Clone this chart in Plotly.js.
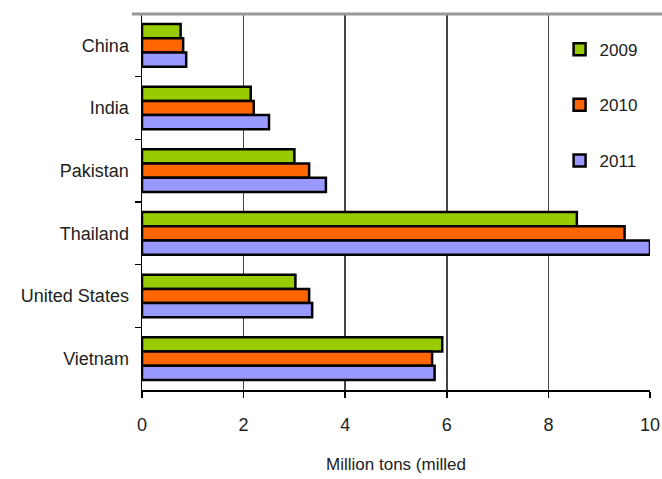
<!DOCTYPE html>
<html>
<head>
<meta charset="utf-8">
<script src="https://cdn.plot.ly/plotly-3.0.1.min.js"></script>
<style>html,body{margin:0;padding:0;background:#fff;}#chart{width:662px;height:479px;}</style>
</head>
<body>
<div id="chart"></div>
<script>
const countries = ["China", "India", "Pakistan", "Thailand", "United States", "Vietnam"];
const years = ["2009", "2010", "2011"];
const v2009 = [0.76, 2.14, 3.0, 8.56, 3.02, 5.91];
const v2010 = [0.81, 2.2, 3.29, 9.5, 3.29, 5.71];
const v2011 = [0.87, 2.5, 3.62, 10.0, 3.35, 5.76];
const colors = ["#99CC00", "#FF6600", "#9999FF"];
const series = [v2009, v2010, v2011];

const traces = series.map((vals, i) => ({
  type: "bar",
  orientation: "h",
  name: years[i],
  y: countries,
  x: vals,
  legendgroup: years[i],
  marker: {color: colors[i], line: {color: "#000", width: 2.5}},
  hoverinfo: "x+name"
}));

const layout = {
  width: 662, height: 479,
  margin: {l: 142, r: 12, t: 14, b: 89},
  paper_bgcolor: "#fff", plot_bgcolor: "#fff",
  font: {family: "Liberation Sans, Arial, sans-serif", color: "#222", size: 17},
  barmode: "group",
  bargap: 0.32,
  bargroupgap: 0,
  showlegend: true,
  legend: {
    x: 0.822, xanchor: "left", y: 0.953, yanchor: "top",
    font: {size: 17, color: "#222"},
    traceorder: "grouped", tracegroupgap: 30.5,
    bgcolor: "rgba(0,0,0,0)", borderwidth: 0,
    itemwidth: 30
  },
  xaxis: {
    range: [0, 10], dtick: 2, tick0: 0,
    showgrid: true, gridcolor: "#444", gridwidth: 1.5,
    zeroline: false,
    showline: true, linecolor: "#000", linewidth: 1.5,
    ticks: "outside", ticklen: 6, tickcolor: "#000", tickwidth: 1.5,
    ticklabelstandoff: 12,
    tickfont: {size: 18, color: "#222"},
    title: {text: "Million tons (milled", font: {size: 17, color: "#222"}, standoff: 24},
    fixedrange: true
  },
  yaxis: {
    autorange: "reversed",
    type: "category",
    showgrid: false, zeroline: false,
    showline: true, linecolor: "#000", linewidth: 1.5,
    ticks: "outside", tickson: "boundaries", ticklen: 6, tickcolor: "#000", tickwidth: 1.5,
    ticklabelstandoff: 8,
    tickfont: {size: 18, color: "#222"},
    fixedrange: true
  },
  shapes: [
    {type: "line", xref: "paper", yref: "paper", x0: -0.02, x1: 1.03, y0: 1, y1: 1,
     line: {color: "#999", width: 3}}
  ]
};

Plotly.newPlot("chart", traces, layout, {displayModeBar: false, staticPlot: true});
</script>
</body>
</html>
